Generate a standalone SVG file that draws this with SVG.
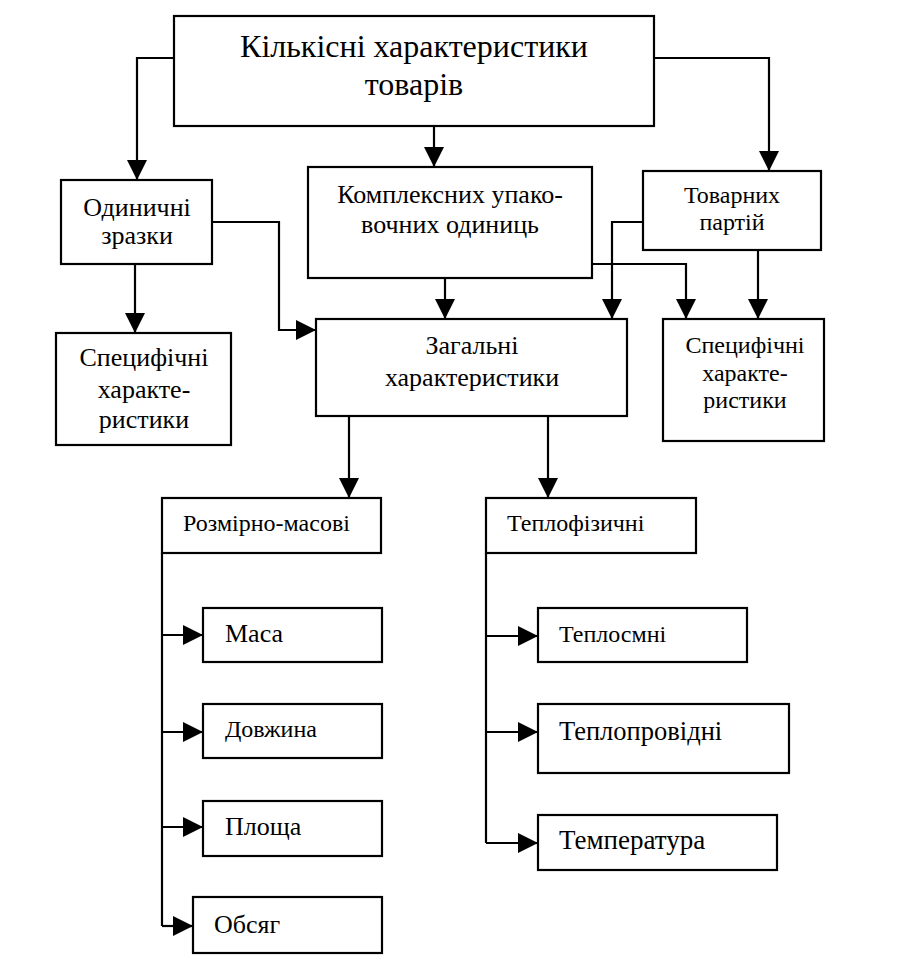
<svg xmlns="http://www.w3.org/2000/svg" width="898" height="972" viewBox="0 0 898 972">
<style>
.box{fill:#fff;stroke:#000;stroke-width:2.2}
.t{font-family:"Liberation Serif","Times New Roman","DejaVu Serif",serif;fill:#000}
.c{text-anchor:middle}
.con{fill:none;stroke:#000;stroke-width:2.2}
</style>
<defs>
<marker id="ah" viewBox="0 0 20 20" refX="20" refY="10" markerWidth="20" markerHeight="20" markerUnits="userSpaceOnUse" orient="auto">
<path d="M0,0 L20,10 L0,20 z" fill="#000"/>
</marker>
</defs>
<rect width="898" height="972" fill="#fff"/>
<g id="connectors" class="con" marker-end="url(#ah)">
<path d="M174,58 H137 V180"/>
<path d="M434,126 V167"/>
<path d="M654,58 H769 V171"/>
<path d="M135,264 V333"/>
<path d="M212,222 H279 V330 H316"/>
<path d="M445,278 V319"/>
<path d="M643,222 H612 V319"/>
<path d="M592,264 H686 V319"/>
<path d="M758,250 V319"/>
<path d="M349,416 V498"/>
<path d="M548,416 V498"/>
<path d="M162,553 V926" marker-end="none"/>
<path d="M162,635 H203"/>
<path d="M162,732 H203"/>
<path d="M162,827 H203"/>
<path d="M162,926 H193"/>
<path d="M486,553 V843" marker-end="none"/>
<path d="M486,636 H538"/>
<path d="M486,732 H538"/>
<path d="M486,843 H538"/>
</g>
<g id="top">
<rect class="box" x="174" y="16" width="480" height="110"/>
<text class="t c" x="414" y="57" font-size="32">Кількісні характеристики</text>
<text class="t c" x="414" y="95" font-size="32">товарів</text>
</g>
<g id="odynychni">
<rect class="box" x="61" y="180" width="151" height="84"/>
<text class="t c" x="137" y="216" font-size="26">Одиничні</text>
<text class="t c" x="137" y="244" font-size="26">зразки</text>
</g>
<g id="kompleksnykh">
<rect class="box" x="308" y="167" width="284" height="111"/>
<text class="t c" x="450" y="203" font-size="26">Комплексних упако-</text>
<text class="t c" x="450" y="233" font-size="26">вочних одиниць</text>
</g>
<g id="tovarnykh">
<rect class="box" x="643" y="171" width="178" height="79"/>
<text class="t c" x="732" y="203" font-size="24">Товарних</text>
<text class="t c" x="732" y="230" font-size="24">партій</text>
</g>
<g id="spec-left">
<rect class="box" x="56" y="333" width="175" height="112"/>
<text class="t c" x="144" y="366" font-size="26">Специфічні</text>
<text class="t c" x="144" y="398" font-size="26">характе-</text>
<text class="t c" x="144" y="428" font-size="26">ристики</text>
</g>
<g id="zagalni">
<rect class="box" x="316" y="319" width="311" height="97"/>
<text class="t c" x="472" y="354" font-size="26">Загальні</text>
<text class="t c" x="472" y="386" font-size="26">характеристики</text>
</g>
<g id="spec-right">
<rect class="box" x="663" y="319" width="161" height="122"/>
<text class="t c" x="745" y="353" font-size="24">Специфічні</text>
<text class="t c" x="745" y="381" font-size="24">характе-</text>
<text class="t c" x="745" y="408" font-size="24">ристики</text>
</g>
<g id="rozmirno">
<rect class="box" x="162" y="498" width="219" height="55"/>
<text class="t" x="183" y="531" font-size="24">Розмірно-масові</text>
</g>
<g id="teplofizychni">
<rect class="box" x="486" y="498" width="210" height="55"/>
<text class="t" x="507" y="531" font-size="24">Теплофізичні</text>
</g>
<g id="masa">
<rect class="box" x="203" y="608" width="179" height="54"/>
<text class="t" x="225" y="642" font-size="26">Маса</text>
</g>
<g id="dovzhyna">
<rect class="box" x="203" y="704" width="179" height="54"/>
<text class="t" x="225" y="737" font-size="24">Довжина</text>
</g>
<g id="plosha">
<rect class="box" x="203" y="801" width="179" height="55"/>
<text class="t" x="225" y="835" font-size="26">Площа</text>
</g>
<g id="obsyag">
<rect class="box" x="193" y="897" width="189" height="56"/>
<text class="t" x="214" y="933" font-size="26">Обсяг</text>
</g>
<g id="teplosmni">
<rect class="box" x="538" y="608" width="209" height="54"/>
<text class="t" x="559" y="642" font-size="24">Теплосмні</text>
</g>
<g id="teploprovidni">
<rect class="box" x="538" y="704" width="251" height="69"/>
<text class="t" x="559" y="740" font-size="26.5">Теплопровідні</text>
</g>
<g id="temperatura">
<rect class="box" x="538" y="815" width="239" height="55"/>
<text class="t" x="559" y="849" font-size="27">Температура</text>
</g>
</svg>
